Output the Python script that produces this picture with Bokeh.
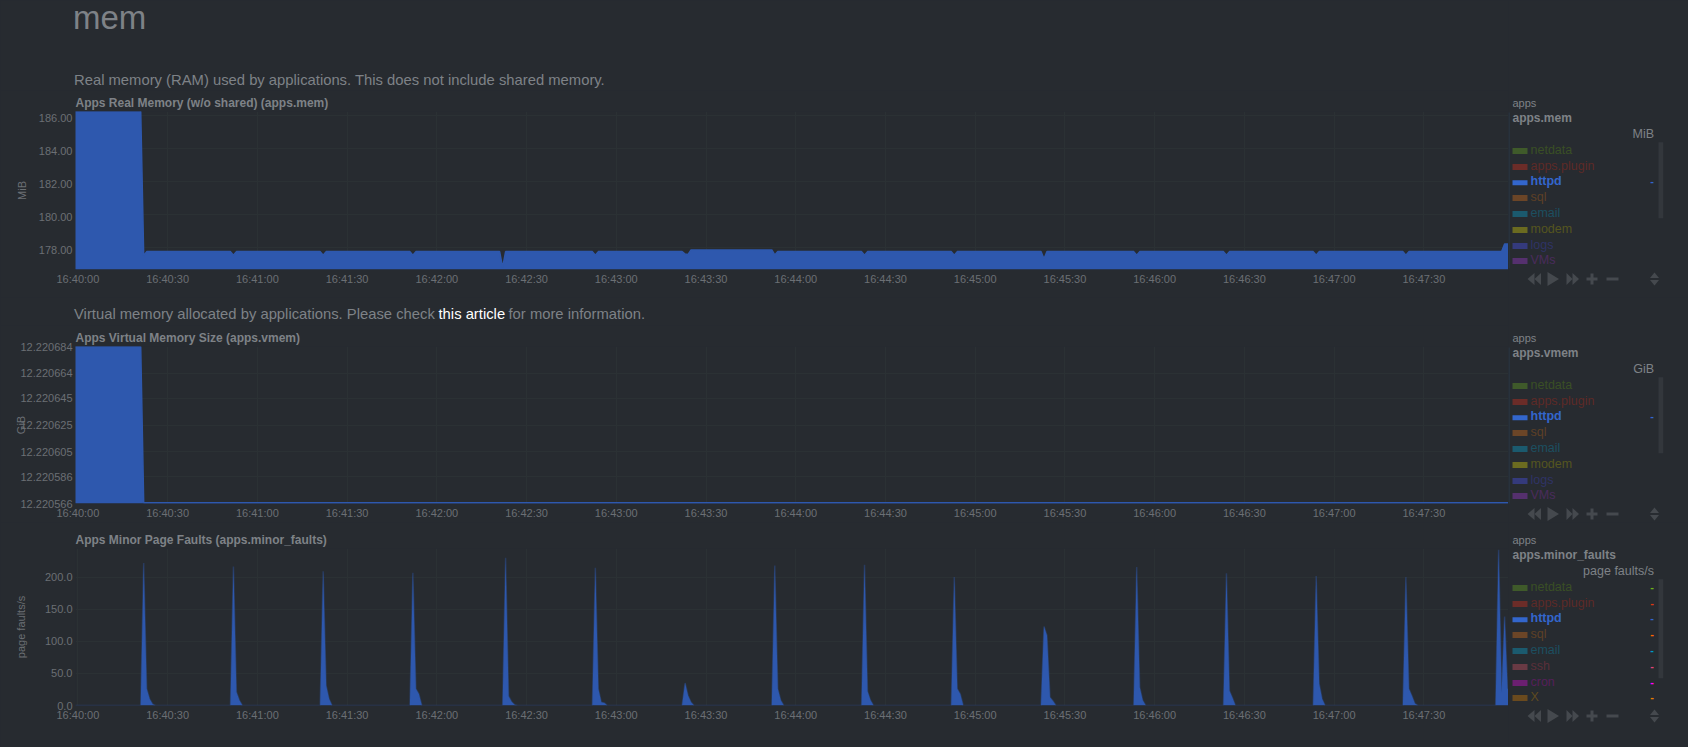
from bokeh.plotting import figure
from bokeh.layouts import column, row
from bokeh.core.properties import value
from bokeh.models import Range1d, LinearAxis, Grid, FixedTicker, NumeralTickFormatter, Title
from bokeh.embed import file_html
from bokeh.resources import INLINE

# ---------- data ----------
TICK_SECONDS = [0, 30, 60, 90, 120, 150, 180, 210, 240, 270, 300, 330, 360, 390, 420, 450]
TICK_LABELS = ["16:40:00", "16:40:30", "16:41:00", "16:41:30", "16:42:00", "16:42:30",
               "16:43:00", "16:43:30", "16:44:00", "16:44:30", "16:45:00", "16:45:30",
               "16:46:00", "16:46:30", "16:47:00", "16:47:30"]

MEM_T = [-2, 21, 22, 23, 51, 52, 53, 81, 82, 83, 111, 112, 113, 141, 142, 143, 172, 173, 174,
         202, 203, 204, 205, 232, 233, 234, 262, 263, 264, 292, 293, 294, 322, 323, 324,
         353, 354, 355, 383, 384, 385, 413, 414, 415, 443, 444, 445, 476, 477, 479]
MEM_V = [186.3, 186.3, 177.47, 177.72, 177.72, 177.5, 177.72, 177.72, 177.5, 177.72, 177.72, 177.5, 177.72,
         177.72, 176.75, 177.72, 177.72, 177.5, 177.72,
         177.72, 177.57, 177.55, 177.82, 177.82, 177.52, 177.72, 177.72, 177.5, 177.72,
         177.72, 177.5, 177.72, 177.72, 177.28, 177.72,
         177.72, 177.5, 177.72, 177.72, 177.5, 177.72, 177.72, 177.5, 177.72, 177.72, 177.5, 177.72,
         177.72, 178.18, 178.2]
MEM_TICKS = [178, 180, 182, 184, 186]

VMEM_T = [-2, 21, 22, 479]
VMEM_V = [12.220684, 12.220684, 12.2205665, 12.2205665]
VMEM_TICKS = [12.220566, 12.220586, 12.220605, 12.220625, 12.220645, 12.220664, 12.220684]

FAULT_T = [-2, 21, 22, 23, 24, 25, 26,
           51, 52, 53, 54, 55,
           81, 82, 83, 84, 85,
           111, 112, 113, 114, 115,
           142, 143, 144, 145, 146, 147,
           172, 173, 174, 175, 176, 177,
           202, 203, 204, 205, 206,
           232, 233, 234, 235, 236,
           262, 263, 264, 265, 266,
           292, 293, 294, 295, 296,
           322, 323, 324, 325, 326, 327,
           353, 354, 355, 356, 357,
           383, 384, 385, 386, 387,
           413, 414, 415, 416, 417,
           443, 444, 445, 446, 447, 448,
           474, 475, 476, 477, 478, 479]
FAULT_V = [0, 0, 222, 26, 10, 2, 0,
           0, 216.5, 21, 8, 0,
           0, 209, 31, 10, 0,
           0, 206.7, 26, 18, 0,
           0, 230, 14.5, 6, 1, 0,
           0, 214.4, 26, 5, 4, 0,
           0, 35, 15.6, 5, 0,
           0, 218, 26, 8, 0,
           0, 219, 22, 8, 0,
           0, 200, 26, 18, 0,
           0, 123, 109, 13, 7, 0,
           0, 215.5, 28.5, 8, 0,
           0, 206, 23, 12, 0,
           0, 201.5, 34, 10, 0,
           0, 200, 26, 15, 3, 0,
           0, 242.5, 20, 138.6, 26, 26]
FAULT_TICKS = [0, 50, 100, 150, 200]

LEGEND_A = ["netdata", "apps.plugin", "httpd", "sql", "email", "modem", "logs", "VMs"]
LEGEND_B = ["netdata", "apps.plugin", "httpd", "sql", "email", "ssh", "cron", "X"]
SWATCH = {"netdata": "#3f5a2a", "apps.plugin": "#6b2c28", "httpd": "#3366cc", "sql": "#6b4527",
          "email": "#1b5a6e", "modem": "#6b6b20", "logs": "#343a7c", "VMs": "#55306e",
          "ssh": "#6a3a44", "cron": "#6b1f70", "X": "#6a4a1e"}
TEXTCOL = {"netdata": "#3a4f25", "apps.plugin": "#5e2a27", "httpd": "#3366cc", "sql": "#5e4026",
           "email": "#1c4f60", "modem": "#55551f", "logs": "#2f3365", "VMs": "#4a2b5c",
           "ssh": "#5a2f3a", "cron": "#551f5a", "X": "#5e4a20"}
DASH = {"netdata": "#6cb319", "apps.plugin": "#dc3912", "httpd": "#3366cc", "sql": "#ff6600",
        "email": "#0099c6", "ssh": "#dd4477", "cron": "#ff00ff", "X": "#e67f00"}

# ---------- style ----------
BG = "#272b30"
GRID = "#2b3134"
FILL = "#2e58ae"
AXTXT = "#6b6f74"
TXT = "#7e8287"
FONT = "Liberation Sans"
X0, X1, W = 75, 1508, 1688
T0, T1 = -0.8, 478.3


def canvas(x0, x1, top, bottom):
    """Undecorated figure whose data coordinates are page pixels."""
    g = figure(width=x1 - x0, height=bottom - top, output_backend="svg", toolbar_location=None,
               x_axis_location=None, y_axis_location=None, frame_align=False,
               x_range=Range1d(x0, x1), y_range=Range1d(bottom, top),
               min_border=0, background_fill_color=BG, border_fill_color=BG, outline_line_color=None)
    g.grid.visible = False
    return g


def txt(g, x, y, s, size, color, style="normal", align="left", base="middle"):
    g.text(x=[x], y=[y], text=[s], text_font=value(FONT), text_font_size=size, text_color=color,
           text_font_style=style, text_align=align, text_baseline=base)


def chart(title, top, bottom, ft, fb, ymin, ymax, ticks, fmt, shift, T, V, zero_alpha, unit, standoff):
    f = figure(width=X1, height=bottom - top, output_backend="svg", toolbar_location=None,
               x_axis_location=None, y_axis_location=None, frame_align=False,
               x_range=Range1d(T0, T1), y_range=Range1d(ymin, ymax),
               title=Title(text=title, text_font=FONT, text_font_size="12px", text_font_style="bold",
                           text_color=TXT, align="left", standoff=3),
               min_border_left=X0, min_border_right=0,
               min_border_top=ft - top, min_border_bottom=bottom - fb,
               background_fill_color=BG, border_fill_color=BG, outline_line_color=None)
    f.grid.visible = False
    f.add_layout(Grid(dimension=0, ticker=FixedTicker(ticks=TICK_SECONDS), grid_line_color=GRID))
    f.add_layout(Grid(dimension=1, ticker=FixedTicker(ticks=ticks), grid_line_color=GRID))
    per_px = (ymax - ymin) / (fb - ft)
    f.extra_y_ranges = {"labels": Range1d(ymin + shift * per_px, ymax + shift * per_px)}
    ya = LinearAxis(y_range_name="labels", ticker=FixedTicker(ticks=ticks),
                    formatter=NumeralTickFormatter(format=fmt), axis_label=unit,
                    axis_label_standoff=standoff, axis_label_text_color=AXTXT,
                    axis_label_text_font=FONT, axis_label_text_font_size="11px",
                    axis_label_text_font_style="normal")
    xa = LinearAxis(ticker=FixedTicker(ticks=TICK_SECONDS),
                    major_label_overrides=dict(zip(TICK_SECONDS, TICK_LABELS)))
    for a in (xa, ya):
        a.axis_line_color = None
        a.major_tick_line_color = None
        a.minor_tick_line_color = None
        a.major_tick_out = 0
        a.major_tick_in = 0
        a.major_label_text_color = AXTXT
        a.major_label_text_font = FONT
        a.major_label_text_font_size = "11px"
        a.major_label_standoff = 3
    f.add_layout(xa, "below")
    f.add_layout(ya, "left")
    f.varea(x=T, y1=[ymin] * len(T), y2=V, fill_color=FILL, fill_alpha=1.0)
    f.line(x=T, y=V, line_color=FILL, line_width=1.5, line_alpha=zero_alpha)
    return f


def side(top, bottom, dy, names, unit, chart_id, scroll_end, all_dashes, edge):
    g = canvas(X1, W, top, bottom)
    ROWS = [149.5, 165.5, 180.5, 196.5, 212.5, 228.5, 244.5, 259.5]
    if edge:
        g.segment(x0=[X1 + .5], y0=[112 + dy], x1=[X1 + .5], y1=[268 + dy], line_color="#2b3a48", line_width=1)
    txt(g, 1512, 102.7 + dy, "apps", "11px", TXT)
    txt(g, 1512, 117.2 + dy, chart_id, "12px", TXT, "bold")
    txt(g, 1653.5, 133.3 + dy, unit, "12.5px", TXT, align="right")
    for n, y0 in zip(names, ROWS):
        y = y0 + dy
        h = 2.5 if n == "httpd" else 3
        yc = y + 1.7 if n == "httpd" else y + 1
        g.quad(left=[1512], right=[1527], top=[yc - h], bottom=[yc + h], fill_color=SWATCH[n], line_color=None)
        txt(g, 1530, y, n, "12.5px", TEXTCOL[n], "bold" if n == "httpd" else "normal")
        if all_dashes or n == "httpd":
            txt(g, 1653.5, y, "-", "11px", DASH[n], "bold", "right")
    g.quad(left=[1658], right=[1662.7], top=[141.7 + dy], bottom=[scroll_end], fill_color="#33373c", line_color=None)
    yc = 278.5 + dy
    icons = [
        [(1527, yc), (1534, yc - 6), (1534, yc + 6)], [(1534, yc), (1540.5, yc - 6), (1540.5, yc + 6)],
        [(1547, yc - 7), (1558.5, yc), (1547, yc + 7)],
        [(1566, yc - 6), (1572, yc), (1566, yc + 6)], [(1572, yc - 6), (1578.5, yc), (1572, yc + 6)],
        [(1590, yc - 5.5), (1593, yc - 5.5), (1593, yc - 1.5), (1597, yc - 1.5), (1597, yc + 1.5), (1593, yc + 1.5),
         (1593, yc + 5.5), (1590, yc + 5.5), (1590, yc + 1.5), (1586, yc + 1.5), (1586, yc - 1.5), (1590, yc - 1.5)],
        [(1606, yc - 1.5), (1618, yc - 1.5), (1618, yc + 1.5), (1606, yc + 1.5)],
        [(1649.5, yc - 1), (1654, yc - 6.5), (1658.5, yc - 1)], [(1649.5, yc + 1), (1654, yc + 6.5), (1658.5, yc + 1)],
    ]
    g.patches(xs=[[p[0] for p in ic] for ic in icons], ys=[[p[1] for p in ic] for ic in icons],
              fill_color="#45494e", line_color=None)
    return g


# ---------- chart 1 ----------
h1 = canvas(0, X1, 0, 90)
txt(h1, 72.5, 17, "mem", "33px", TXT)
txt(h1, 73.5, 79, "Real memory (RAM) used by applications. This does not include shared memory.", "14.8px", TXT)
f1 = chart("Apps Real Memory (w/o shared) (apps.mem)", 90, 297, 111, 269, 176.63, 186.26,
           MEM_TICKS, "0.00", 2.5, MEM_T, MEM_V, 1.0, "MiB", 8)
s1 = side(0, 297, 0, LEGEND_A, "MiB", "apps.mem", 217.7, False, True)

# ---------- chart 2 ----------
h2 = canvas(0, X1, 297, 325)
txt(h2, 73.5, 313.5, "Virtual memory allocated by applications. Please check ", "14.8px", TXT)
txt(h2, 438, 313.5, "this article", "14.8px", "#ffffff")
txt(h2, 508, 313.5, "for more information.", "14.8px", TXT)
f2 = chart("Apps Virtual Memory Size (apps.vmem)", 325, 522, 346, 503, 12.220566, 12.220684,
           VMEM_TICKS, "0.000000", 0, VMEM_T, VMEM_V, 1.0, "GiB", -9)
s2 = side(297, 522, 235, LEGEND_A, "GiB", "apps.vmem", 452.7, False, True)

# ---------- chart 3 ----------
f3 = chart("Apps Minor Page Faults (apps.minor_faults)", 522, 747, 548, 705, 0, 244.5,
           FAULT_TICKS, "0.0", 0, FAULT_T, FAULT_V, 0.35, "page faults/s", 15)
s3 = side(522, 747, 437, LEGEND_B, "page faults/s", "apps.minor_faults", 677.7, True, False)

p = column(row(column(h1, f1, spacing=0), s1, spacing=0),
           row(column(h2, f2, spacing=0), s2, spacing=0),
           row(f3, s3, spacing=0), spacing=0)

html = file_html(p, INLINE, title="mem")
html = html.replace("<head>", "<head><style>html,body{background:#272b30;}</style>", 1)
open("out.html", "w").write(html)
